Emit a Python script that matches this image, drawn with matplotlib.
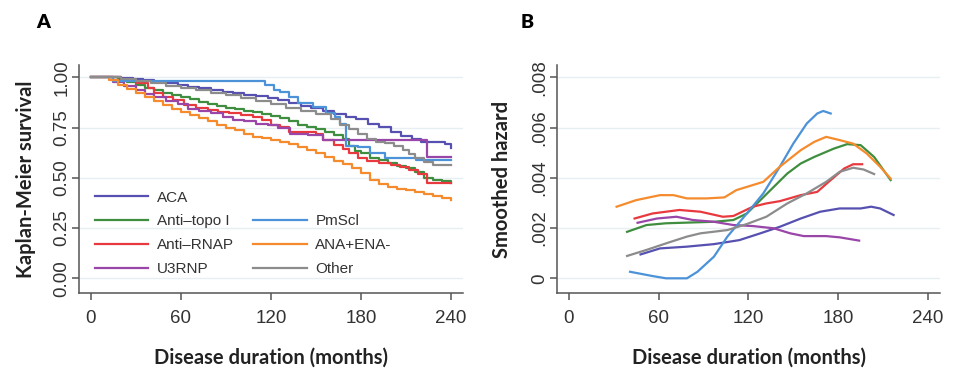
import matplotlib
matplotlib.use("Agg")
import matplotlib.pyplot as plt
from matplotlib.lines import Line2D
from matplotlib import font_manager

# ---------------- data ----------------
groups = ["ACA", "Anti\u2013topo I", "Anti\u2013RNAP", "U3RNP", "PmScl", "ANA+ENA-", "Other"]
colors = ["#5650B0", "#3F8E3F", "#E8393F", "#9A45A8", "#4C92D8", "#F58B2C", "#8C8C8C"]

# Panel A: Kaplan-Meier survival (step curves)
km_aca_t = [0, 10, 20, 28, 35, 42, 50, 58, 65, 72, 80, 88, 95, 102, 110, 118, 125, 132, 140, 147, 155, 162, 170, 177, 185, 192, 200, 207, 214, 220, 228, 236, 240]
km_aca_s = [1, 1, 0.995, 0.99, 0.985, 0.978, 0.97, 0.96, 0.952, 0.945, 0.935, 0.928, 0.92, 0.912, 0.905, 0.897, 0.885, 0.872, 0.855, 0.845, 0.83, 0.815, 0.8, 0.79, 0.77, 0.755, 0.73, 0.71, 0.695, 0.68, 0.68, 0.67, 0.647]

km_topo_t = [0, 12, 18, 24, 30, 36, 42, 48, 54, 60, 66, 72, 78, 84, 90, 96, 102, 108, 114, 120, 126, 132, 138, 144, 150, 156, 162, 168, 172, 176, 180, 186, 192, 198, 204, 210, 216, 222, 228, 234, 240]
km_topo_s = [1, 1, 0.99, 0.975, 0.962, 0.948, 0.935, 0.922, 0.91, 0.9, 0.89, 0.877, 0.866, 0.856, 0.848, 0.842, 0.832, 0.825, 0.815, 0.805, 0.795, 0.78, 0.765, 0.755, 0.745, 0.728, 0.712, 0.695, 0.66, 0.635, 0.622, 0.6, 0.59, 0.575, 0.56, 0.548, 0.53, 0.5, 0.49, 0.482, 0.475]

km_rnap_t = [0, 15, 20, 30, 38, 42, 48, 55, 62, 70, 78, 85, 92, 100, 108, 114, 120, 126, 132, 138, 150, 155, 162, 168, 172, 178, 184, 192, 200, 206, 212, 218, 224, 240]
km_rnap_s = [1, 1, 0.987, 0.97, 0.945, 0.92, 0.9, 0.885, 0.863, 0.846, 0.835, 0.828, 0.82, 0.81, 0.8, 0.785, 0.765, 0.755, 0.73, 0.73, 0.72, 0.69, 0.665, 0.645, 0.622, 0.6, 0.585, 0.575, 0.565, 0.553, 0.54, 0.52, 0.473, 0.473]

km_u3_t = [0, 15, 22, 30, 36, 42, 50, 58, 65, 72, 80, 88, 95, 102, 110, 118, 125, 133, 145, 155, 224, 240]
km_u3_s = [1, 0.975, 0.955, 0.937, 0.915, 0.9, 0.88, 0.865, 0.84, 0.83, 0.82, 0.8, 0.788, 0.78, 0.77, 0.762, 0.748, 0.72, 0.715, 0.689, 0.603, 0.603]

km_pm_t = [0, 15, 116, 122, 126, 132, 138, 148, 157, 163, 166, 170, 178, 186, 196, 217, 240]
km_pm_s = [1, 0.983, 0.962, 0.937, 0.928, 0.9, 0.87, 0.85, 0.821, 0.8, 0.77, 0.66, 0.655, 0.625, 0.6, 0.589, 0.589]

km_ana_t = [0, 8, 12, 18, 24, 30, 36, 42, 48, 54, 60, 66, 72, 78, 84, 90, 96, 102, 108, 114, 120, 126, 132, 138, 144, 150, 156, 162, 168, 174, 180, 186, 192, 198, 204, 210, 216, 222, 228, 234, 240]
km_ana_s = [1, 1, 0.985, 0.962, 0.94, 0.922, 0.9, 0.88, 0.86, 0.84, 0.825, 0.81, 0.795, 0.78, 0.765, 0.75, 0.738, 0.72, 0.705, 0.697, 0.69, 0.68, 0.668, 0.655, 0.64, 0.625, 0.605, 0.585, 0.57, 0.55, 0.525, 0.49, 0.47, 0.455, 0.445, 0.44, 0.43, 0.42, 0.41, 0.4, 0.39]

km_oth_t = [0, 12, 20, 30, 40, 50, 60, 70, 80, 90, 100, 110, 120, 130, 140, 150, 160, 166, 172, 178, 184, 190, 196, 202, 208, 212, 216, 222, 228, 240]
km_oth_s = [1, 1, 0.99, 0.98, 0.97, 0.958, 0.948, 0.935, 0.922, 0.912, 0.897, 0.883, 0.865, 0.848, 0.833, 0.818, 0.79, 0.765, 0.745, 0.72, 0.695, 0.68, 0.672, 0.66, 0.64, 0.62, 0.598, 0.58, 0.564, 0.564]

# Panel B: smoothed hazard
hz_aca_t = [48, 61, 79, 97, 114, 128, 141, 155, 168, 181, 195, 202, 208, 217]
hz_aca_h = [0.00095, 0.00119, 0.00126, 0.00136, 0.00152, 0.00179, 0.00205, 0.00238, 0.00265, 0.00278, 0.00278, 0.00285, 0.00278, 0.00252]

hz_topo_t = [39, 52, 65, 97, 110, 119, 128, 137, 146, 155, 164, 177, 186, 195, 204, 215]
hz_topo_h = [0.00185, 0.00212, 0.00219, 0.00225, 0.00232, 0.00258, 0.00311, 0.00364, 0.00417, 0.00457, 0.00483, 0.00516, 0.00534, 0.0053, 0.00483, 0.00391]

hz_rnap_t = [44, 56, 74, 88, 103, 110, 123, 132, 141, 155, 166, 175, 184, 190, 196]
hz_rnap_h = [0.00238, 0.00258, 0.00272, 0.00265, 0.00245, 0.00248, 0.00285, 0.00298, 0.00307, 0.00331, 0.00344, 0.00391, 0.00437, 0.00454, 0.00454]

hz_u3_t = [46, 59, 72, 83, 97, 110, 123, 137, 148, 157, 172, 181, 194]
hz_u3_h = [0.00221, 0.00238, 0.00245, 0.00232, 0.00225, 0.00212, 0.00208, 0.00199, 0.00179, 0.00168, 0.00168, 0.00163, 0.0015]

hz_pm_t = [41, 56, 65, 79, 86, 97, 106, 119, 130, 141, 150, 159, 166, 170, 175]
hz_pm_h = [0.00026, 0.00009, 0.0, 0.0, 0.00026, 0.00086, 0.00166, 0.00258, 0.00338, 0.00444, 0.00536, 0.00616, 0.00656, 0.00666, 0.00656]

hz_ana_t = [32, 45, 61, 70, 79, 92, 104, 112, 130, 141, 155, 164, 172, 181, 190, 199, 208, 215]
hz_ana_h = [0.00285, 0.00311, 0.00331, 0.00331, 0.00318, 0.00318, 0.00322, 0.00351, 0.00384, 0.00444, 0.0051, 0.00543, 0.00563, 0.0055, 0.00536, 0.00497, 0.00444, 0.00397]

hz_oth_t = [39, 52, 65, 79, 88, 106, 119, 132, 146, 159, 172, 181, 190, 197, 204]
hz_oth_h = [0.00089, 0.00113, 0.00139, 0.00166, 0.00179, 0.00192, 0.00216, 0.00245, 0.00298, 0.00338, 0.00384, 0.00424, 0.0044, 0.00433, 0.00415]

x_ticks = [0, 60, 120, 180, 240]
a_yticks = [0.0, 0.25, 0.5, 0.75, 1.0]
a_yticklabels = ["0.00", "0.25", "0.50", "0.75", "1.00"]
b_yticks = [0.0, 0.002, 0.004, 0.006, 0.008]
b_yticklabels = ["0", ".002", ".004", ".006", ".008"]

km = [(km_aca_t, km_aca_s), (km_topo_t, km_topo_s), (km_rnap_t, km_rnap_s), (km_u3_t, km_u3_s),
      (km_pm_t, km_pm_s), (km_ana_t, km_ana_s), (km_oth_t, km_oth_s)]
hz = [(hz_aca_t, hz_aca_h), (hz_topo_t, hz_topo_h), (hz_rnap_t, hz_rnap_h), (hz_u3_t, hz_u3_h),
      (hz_pm_t, hz_pm_h), (hz_ana_t, hz_ana_h), (hz_oth_t, hz_oth_h)]

# ---------------- figure ----------------
W, H = 957, 372
fig = plt.figure(figsize=(W / 100, H / 100), dpi=100)
fig.patch.set_facecolor("white")

names = {f.name for f in font_manager.fontManager.ttflist}
narrow = "Liberation Sans Narrow" if "Liberation Sans Narrow" in names else "Liberation Sans"
tick_size = 16 if narrow == "Liberation Sans Narrow" else 13.5

tick_font = {"family": [narrow, "DejaVu Sans"], "size": tick_size}
label_font = {"family": ["Lato", "DejaVu Sans"], "weight": "bold", "size": 14.5}

def px_axes(l, r, t, b):
    return [l / W, 1 - b / H, (r - l) / W, (b - t) / H]

axA = fig.add_axes(px_axes(79, 463, 65, 293))
axB = fig.add_axes(px_axes(557, 940, 65, 293))

def style(ax, yticks, yticklabels, ylim):
    ax.set_xlim(-7.8, 248)
    ax.set_ylim(*ylim)
    for s in ["top", "right"]:
        ax.spines[s].set_visible(False)
    for s in ["left", "bottom"]:
        ax.spines[s].set_color("#555555")
        ax.spines[s].set_linewidth(1.1)
    ax.set_xticks(x_ticks)
    ax.set_xticklabels([str(v) for v in x_ticks], fontdict=tick_font, color="#333333")
    ax.set_yticks(yticks)
    ax.set_yticklabels(yticklabels, fontdict=tick_font, color="#333333", rotation=90, va="center")
    ax.tick_params(axis="both", direction="out", length=5, width=1.1, color="#555555")
    ax.tick_params(axis="x", pad=7)
    ax.tick_params(axis="y", pad=1)
    for y in yticks:
        ax.axhline(y, color="#E8EFF3", lw=1.0, zorder=0)
    ax.set_xlabel("Disease duration (months)", fontdict=label_font, color="#222222", labelpad=15)

style(axA, a_yticks, a_yticklabels, (-0.073, 1.061))
style(axB, b_yticks, b_yticklabels, (-0.000585, 0.00849))

for (t, s), c, g in zip(km, colors, groups):
    axA.plot(t, s, drawstyle="steps-post", color=c, lw=1.6, label=g)
for (t, h), c in zip(hz, colors):
    axB.plot(t, h, color=c, lw=1.6)

axA.set_ylabel("Kaplan-Meier survival", fontdict=label_font, color="#222222", labelpad=13)
axB.set_ylabel("Smoothed hazard", fontdict=label_font, color="#222222", labelpad=14)

# legend: 2 columns with a blank slot at top of the second column
handles, labels = axA.get_legend_handles_labels()
blank = Line2D([], [], color="none")
order_h = handles[:4] + [blank] + handles[4:]
order_l = labels[:4] + [""] + labels[4:]
axA.legend(order_h, order_l, ncol=2, loc="upper left", bbox_to_anchor=(0.041, 0.449),
           frameon=False, prop={"family": ["Liberation Sans", "DejaVu Sans"], "size": 11},
           handlelength=3.5, handletextpad=0.55, columnspacing=1.3, labelspacing=0.64,
           borderpad=0, borderaxespad=0, labelcolor="#333333")

fig.text(36 / W, 1 - 22 / H, "A", fontdict={"family": ["Lato", "DejaVu Sans"], "weight": "heavy", "size": 14},
         va="center", ha="left")
fig.text(521 / W, 1 - 22 / H, "B", fontdict={"family": ["Lato", "DejaVu Sans"], "weight": "heavy", "size": 14},
         va="center", ha="left")

fig.savefig("out.png", dpi=100, facecolor="white")
